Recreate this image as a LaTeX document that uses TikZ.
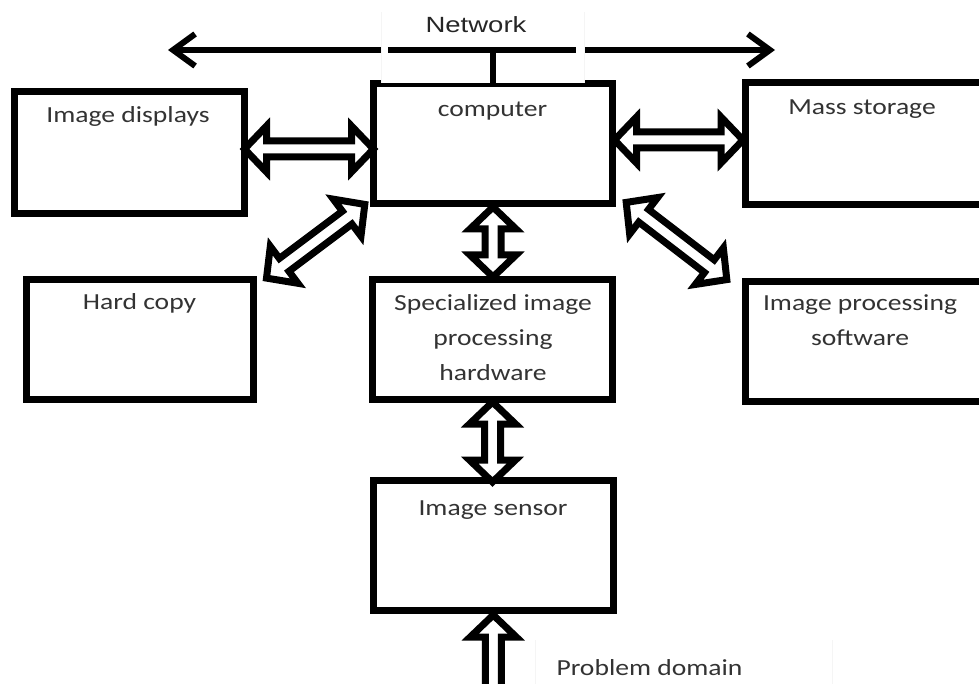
\documentclass[tikz,border=0pt]{standalone}
\usepackage{fontspec}
\usetikzlibrary{calc,arrows.meta}
\newfontfamily\boxfont[FakeStretch=1.2]{Carlito}
\newfontfamily\netfont[FakeStretch=1.25]{Liberation Sans}

% block arrow dimensions: head length, head half-width, shaft half-width
\newcommand\bahl{22}
\newcommand\bahw{23}
\newcommand\basw{8}
% point on a block arrow: #1 along its axis, #2 across it
\newcommand\bap[2]{({\x1+(#1)*\n2-(#2)*\n3},{\y1+(#1)*\n3+(#2)*\n2})}
% hollow double-headed block arrow between #1 and #2
\newcommand\dblblock[2]{%
  \path[blockarrow] let \p1=#1, \p2=#2,
    \n1={veclen(\x2-\x1,\y2-\y1)},
    \n2={(\x2-\x1)/\n1}, \n3={(\y2-\y1)/\n1} in
    \bap{0}{0} -- \bap{\bahl}{\bahw} -- \bap{\bahl}{\basw}
    -- \bap{\n1-\bahl}{\basw} -- \bap{\n1-\bahl}{\bahw} -- \bap{\n1}{0}
    -- \bap{\n1-\bahl}{-\bahw} -- \bap{\n1-\bahl}{-\basw}
    -- \bap{\bahl}{-\basw} -- \bap{\bahl}{-\bahw} -- cycle;}
% hollow single-headed block arrow, tip at #1, tail at #2
\newcommand\oneblock[2]{%
  \path[blockarrow] let \p1=#1, \p2=#2,
    \n1={veclen(\x2-\x1,\y2-\y1)},
    \n2={(\x2-\x1)/\n1}, \n3={(\y2-\y1)/\n1} in
    \bap{0}{0} -- \bap{\bahl}{\bahw} -- \bap{\bahl}{\basw}
    -- \bap{\n1}{\basw} -- \bap{\n1}{-\basw}
    -- \bap{\bahl}{-\basw} -- \bap{\bahl}{-\bahw} -- cycle;}

\tikzset{
  box/.style={draw=black, line width=7pt, rectangle, inner sep=0pt, outer sep=0pt, fill=white},
  blockarrow/.style={draw=black, fill=white, line width=7pt, line join=miter, miter limit=10},
  lbl/.style={font=\boxfont\fontsize{23}{35}\selectfont, text=black!80, inner sep=0pt, align=center, anchor=base},
  netlbl/.style={font=\netfont\fontsize{22}{26}\selectfont, text=black!85, inner sep=0pt, anchor=base},
  netline/.style={line width=6pt, line cap=butt},
  faint/.style={draw=black!4, line width=0.8pt}
}

\begin{document}
\begin{tikzpicture}[x=1pt, y=-1pt]
\useasboundingbox (0,0) rectangle (979,684);

% boxes
\node[box, minimum width=230pt, minimum height=122pt] (disp) at (129.5,152.5) {};
\node[box, minimum width=239pt, minimum height=120pt] (comp) at (493,144) {};
\node[box, minimum width=255pt, minimum height=122pt] (mass) at (872.5,144) {};
\node[box, minimum width=227.5pt, minimum height=120pt] (hard) at (139.75,339.5) {};
\node[box, minimum width=240pt, minimum height=119.5pt] (spec) at (492.5,339.25) {};
\node[box, minimum width=255pt, minimum height=119pt] (soft) at (872.5,341.5) {};
\node[box, minimum width=239.5pt, minimum height=129.5pt] (sens) at (493.25,545.25) {};

% network bus
\coordinate (netL) at (168,50);
\coordinate (netR) at (775,50);
\draw[netline, {Straight Barb[length=22pt,width=32pt]}-{Straight Barb[length=22pt,width=32pt]}] (netL) -- (netR);
\fill[white] (380.5,38) rectangle (388,62);
\fill[white] (576,38) rectangle (584,62);
\fill[white] (381,78) rectangle (584,82.8);
\draw[faint] (381,12) -- (381,83);
\draw[faint] (584,12) -- (584,83);
\coordinate (netT) at (comp.north |- netL);
\draw[netline] (netT) -- (comp.north);
\node[netlbl] (net) at (476,33) {Network};

% connections between units
\dblblock{($(disp.east)+(0,-3.5)$)}{($(comp.west |- disp.east)+(0,-3.5)$)}
\dblblock{($(comp.east)+(2,-4)$)}{($(mass.west)+(-2,-4)$)}
\dblblock{($(comp.south)+(0,3)$)}{($(comp.south |- spec.north)+(0,-2.5)$)}
\dblblock{($(spec.south)+(0,3)$)}{($(spec.south |- sens.north)+(0,1.5)$)}
\dblblock{($(comp.south west)+(-8.7,0.4)$)}{($(hard.north east)+(13,-1.4)$)}
\dblblock{($(comp.south east)+(13.7,-1.6)$)}{($(soft.north west)+(-18.2,-2.4)$)}
\coordinate (pdtail) at ($(sens.south)+(0,95)$);
\oneblock{($(sens.south)+(0,5)$)}{(pdtail)}

% labels (multi-line labels sit on the baseline of their last line)
\node[lbl] (dispt) at (128,123) {Image displays};
\node[lbl] (compt) at (492.5,117) {computer};
\node[lbl] (masst) at (862,115) {Mass storage};
\node[lbl] (hardt) at (139.5,310) {Hard copy};
\node[lbl] (spect) at (493,380) {Specialized image\\processing\\hardware};
\node[lbl] (softt) at (860,345) {Image processing\\software};
\node[lbl] (senst) at (493,515) {Image sensor};
\node[lbl] (prob) at (649.5,675) {Problem domain};
\draw[faint] (535,640) -- (535,684);
\draw[faint] (832,640) -- (832,684);
\end{tikzpicture}
\end{document}
